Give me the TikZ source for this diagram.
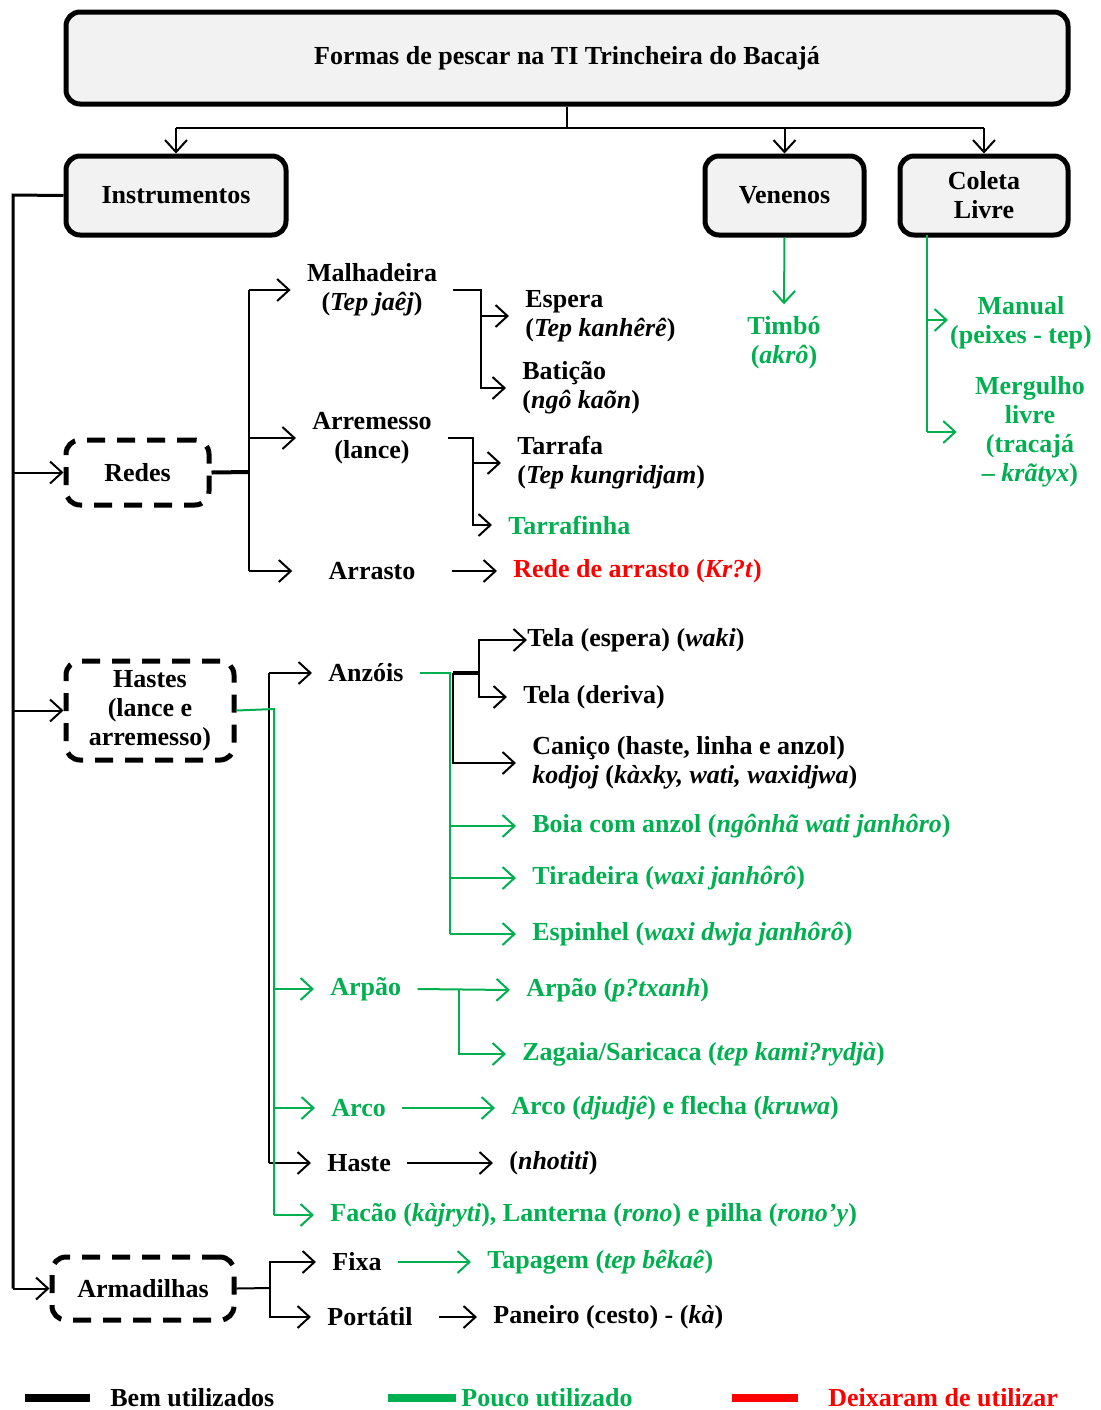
\documentclass[tikz,border=0pt]{standalone}
\usepackage{fontspec}
\setmainfont{Liberation Serif}
\usetikzlibrary{arrows.meta,calc}

\definecolor{verde}{HTML}{00B050}
\definecolor{vermelho}{HTML}{FF0000}
\definecolor{cinza}{HTML}{F2F2F2}

\tikzset{
  caixa/.style={draw,line width=2.5pt,rounded corners=7pt,fill=cinza,align=center,inner sep=0pt},
  tracejada/.style={draw,line width=2.5pt,dash pattern=on 9pt off 6pt,rounded corners=7pt,align=center,inner sep=0pt},
  rot/.style={inner xsep=8pt,inner ysep=2pt,align=left},
  vrot/.style={rot,text=verde},
  lig/.style={line width=1pt},
  seta/.style={lig,-{Straight Barb[length=6pt,width=11pt]}},
  vlig/.style={lig,draw=verde},
  vseta/.style={seta,draw=verde},
  legenda/.style={line width=4pt},
}

\begin{document}
\begin{tikzpicture}[x=0.5pt,y=-0.5pt,font=\fontsize{13}{14.5}\selectfont\bfseries]
\useasboundingbox (0,0) rectangle (1101,1410);

% caixas principais
\node[caixa,minimum width=501pt,minimum height=46pt] (titulo) at (567,58) {Formas de pescar na TI Trincheira do Bacajá};
\node[caixa,minimum width=110pt,minimum height=39.5pt] (instr) at (176,195.5) {Instrumentos};
\node[caixa,minimum width=79.5pt,minimum height=39.5pt] (venenos) at (784.5,195.5) {Venenos};
\node[caixa,minimum width=84pt,minimum height=39.5pt] (coleta) at (984,195.5) {Coleta\\Livre};

\node[tracejada,minimum width=71.5pt,minimum height=32.5pt] (redes) at (137.5,472.5) {Redes};
\node[tracejada,minimum width=84pt,minimum height=49.5pt] (hastes) at (150,710.5) {Hastes\\(lance e\\arremesso)};
\node[tracejada,minimum width=91pt,minimum height=31.5pt] (armad) at (143,1288.5) {Armadilhas};

\coordinate (barra) at (567,128);
\draw[lig] (titulo.south) -- (barra);
\draw[lig] (barra -| instr.north) -- (barra -| coleta.north);
\draw[seta] (barra -| instr.north) -- (instr.north);
\draw[seta] (barra -| venenos.north) -- (venenos.north);
\draw[seta] (barra -| coleta.north) -- (coleta.north);

\coordinate (tronco) at (13,195);
\draw[line width=1.5pt] (instr.west) -- (tronco) -- (tronco |- armad.west);
\draw[seta] (tronco |- redes.west) -- (redes.west);
\draw[seta] (tronco |- hastes.west) -- (hastes.west);
\draw[seta] (tronco |- armad.west) -- (armad.west);

% redes
\node[rot,align=center] (malha) at (372,290) {Malhadeira\\(\textit{Tep jaêj})};
\node[rot,anchor=west] (espera) at (509,316) {Espera\\(\textit{Tep kanhêrê})};
\node[rot,anchor=west] (baticao) at (506,388) {Batição\\(\textit{ngô kaõn})};
\node[rot,align=center] (arrem) at (372,438) {Arremesso\\(lance)};
\node[rot,anchor=west] (tarrafa) at (501,463) {Tarrafa\\(\textit{Tep kungridjam})};
\node[vrot,anchor=west] (tarrafinha) at (492,525) {Tarrafinha};
\node[rot] (arrasto) at (372,571) {Arrasto};
\node[rot,anchor=west,text=vermelho] (redearr) at (497,571) {Rede de arrasto (\textit{Kr?t})};

\coordinate (rj) at (249,472);
\draw[line width=2pt] (redes.east) -- (rj);
\draw[lig] (rj |- malha.west) -- (rj |- arrasto.west);
\draw[seta] (rj |- malha.west) -- (malha.west);
\draw[seta] (rj |- arrem.west) -- (arrem.west);
\draw[seta] (rj |- arrasto.west) -- ([xshift=-10pt]arrasto.west);

\coordinate (mj) at (481,290);
\draw[seta] (malha.east) -- (mj) |- (baticao.west);
\draw[seta] (mj |- espera.west) -- (espera.west);
\coordinate (aj) at (473,438);
\draw[seta] (arrem.east) -- (aj) |- (tarrafinha.west);
\draw[seta] (aj |- tarrafa.west) -- (tarrafa.west);
\draw[seta] ([xshift=10pt]arrasto.east) -- (redearr.west);

% hastes
\node[rot,anchor=west] (anzois) at (312,673) {Anzóis};
\node[rot,anchor=west] (telaesp) at (511,640) {Tela (espera) (\textit{waki})};
\node[rot,anchor=west] (teladev) at (507,697) {Tela (deriva)};
\node[rot,anchor=west] (canico) at (516,763) {Caniço (haste, linha e anzol)\\\textit{kodjoj} (\textit{kàxky, wati, waxidjwa})};
\node[vrot,anchor=west] (boia) at (516,826) {Boia com anzol (\textit{ngônhã wati janhôro})};
\node[vrot,anchor=west] (tirad) at (516,878) {Tiradeira (\textit{waxi janhôrô})};
\node[vrot,anchor=west] (espinhel) at (516,934) {Espinhel (\textit{waxi dwja janhôrô})};
\node[vrot,anchor=west] (arpao) at (314,989) {Arpão};
\node[vrot,anchor=west] (arpaop) at (510,990) {Arpão (\textit{p?txanh})};
\node[vrot,anchor=west] (zagaia) at (506,1054) {Zagaia/Saricaca (\textit{tep kami?rydjà})};
\node[vrot,anchor=west] (arco) at (315,1108) {Arco};
\node[vrot,anchor=west] (arcofl) at (495,1108) {Arco (\textit{djudjê}) e flecha (\textit{kruwa})};
\node[rot,anchor=west] (haste) at (311,1163) {Haste};
\node[rot,anchor=west] (nhotiti) at (493,1163) {(\textit{nhotiti})};
\node[vrot,anchor=west] (facao) at (314,1215) {Facão (\textit{kàjryti}), Lanterna (\textit{rono}) e pilha (\textit{rono’y})};

\coordinate (hb) at (269,673);
\draw[lig] (hb) -- (hb |- haste.west);
\draw[seta] (hb) -- (anzois.west);
\draw[seta] (hb |- haste.west) -- (haste.west);
\coordinate (hg) at (274,709);
\draw[vlig] (hastes.east) -- (hg) -- (hg |- facao.west);
\draw[vseta] (hg |- arpao.west) -- (arpao.west);
\draw[vseta] (hg |- arco.west) -- (arco.west);
\draw[vseta] (hg |- facao.west) -- (facao.west);

\coordinate (ag) at (450,673);
\coordinate (ab) at (453,673);
\coordinate (ab2) at (479,673);
\draw[vlig] (anzois.east) -- (ag) -- (ag |- espinhel.west);
\draw[vseta] (ag |- boia.west) -- (boia.west);
\draw[vseta] (ag |- tirad.west) -- (tirad.west);
\draw[vseta] (ag |- espinhel.west) -- (espinhel.west);
\draw[line width=2pt] (ab) -- (ab2);
\draw[seta] (ab2) |- ([xshift=8pt]telaesp.west);
\draw[seta] (ab2) |- (teladev.west);
\draw[seta] (ab) |- (canico.west);

\coordinate (pj) at (459,990);
\draw[vseta] (arpao.east) -- (arpaop.west);
\draw[vseta] (pj) |- (zagaia.west);
\draw[vseta] (arco.east) -- (arcofl.west);
\draw[seta] (haste.east) -- (nhotiti.west);

% armadilhas
\node[rot,anchor=west] (fixa) at (316,1262) {Fixa};
\node[vrot,anchor=west] (tapagem) at (471,1262) {Tapagem (\textit{tep bêkaê})};
\node[rot,anchor=west] (portatil) at (311,1317) {Portátil};
\node[rot,anchor=west] (paneiro) at (477,1317) {Paneiro (cesto) - (\textit{kà})};

\coordinate (fj) at (270,1288);
\draw[lig] (armad.east) -- (fj);
\draw[seta] (fj) |- (fixa.west);
\draw[seta] (fj) |- (portatil.west);
\draw[vseta] (fixa.east) -- (tapagem.west);
\draw[seta] ([xshift=5pt]portatil.east) -- (paneiro.west);

% venenos e coleta
\node[vrot,align=center] (timbo) at (784,343) {Timbó\\(\textit{akrô})};
\node[vrot,align=center] (manual) at (1021,323) {Manual\\(peixes - tep)};
\node[vrot,align=center] (mergulho) at (1030,432) {Mergulho\\livre\\(tracajá\\– \textit{krãtyx})};

\draw[vseta] (venenos.south) -- ([yshift=4pt]timbo.north);
\coordinate (cg) at (927,235);
\coordinate (manseta) at (948,320);
\draw[vlig] (cg) -- (cg |- mergulho.west);
\draw[vseta] (cg |- manseta) -- (manseta);
\draw[vseta] (cg |- mergulho.west) -- ([xshift=-1pt]mergulho.west);

% legenda
\node[rot,anchor=west] (lbem) at (94,1398) {Bem utilizados};
\node[vrot,anchor=west] (lpouco) at (445,1398) {Pouco utilizado};
\node[rot,anchor=west,text=vermelho] (ldeix) at (812,1398) {Deixaram de utilizar};
\draw[legenda] ([xshift=-2pt]lbem.west) -- ++(-65,0);
\draw[legenda,verde] ([xshift=5.5pt]lpouco.west) -- ++(-68,0);
\draw[legenda,vermelho] ([xshift=-7pt]ldeix.west) -- ++(-66,0);

\end{tikzpicture}
\end{document}
